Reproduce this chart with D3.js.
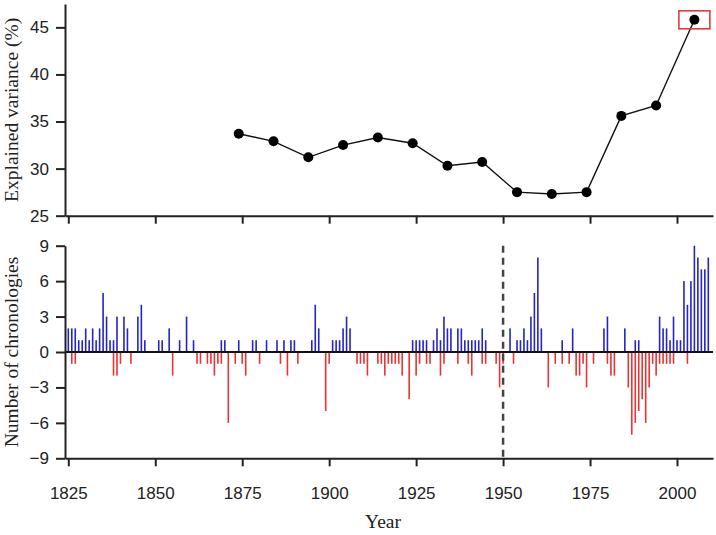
<!DOCTYPE html>
<html><head><meta charset="utf-8">
<script src="https://cdn.jsdelivr.net/npm/d3@7"></script>
<style>body{margin:0;background:#fff}svg{display:block}</style>
</head><body>
<svg id="chart" width="716" height="535"></svg>
<script>
// ---- data ----
const periodYears = [1874,1884,1894,1904,1914,1924,1934,1944,1954,1964,1974,1984,1994,2005];
const explainedVariance = [33.7,32.9,31.2,32.5,33.3,32.7,30.3,30.7,27.5,27.3,27.5,35.6,36.7,45.8];

const positiveYears = [1825,1826,1827,1828,1829,1830,1831,1832,1833,1834,1835,1836,1837,1838,1839,1841,1842,1845,1846,1847,1851,1852,1854,1857,1859,
  1861,1869,1870,1874,1878,1879,1882,1885,1887,1889,1890,1895,1896,1897,
  1901,1902,1903,1904,1905,1906,1924,1925,1926,1927,1928,1930,1931,1932,1933,1934,1935,
  1937,1938,1939,1940,1941,1942,1943,1944,1945,
  1952,1954,1955,1956,1957,1958,1959,1960,1961,1967,1970,
  1979,1980,1985,1988,1989,1995,1996,1997,1998,1999,2000,2001,2002,2003,2004,2005,2006,2007,2008,2009];
const positiveCounts = [2,2,2,1,1,2,1,2,1,2,5,3,1,1,3,3,2,3,4,1,1,1,2,1,3,
  1,1,1,1,1,1,1,1,1,1,1,1,4,2,
  1,1,1,2,3,2,1,1,1,1,1,1,2,1,3,2,2,
  2,2,1,1,1,1,1,2,1,
  2,1,1,2,1,3,5,8,2,1,2,
  2,3,2,1,1,3,2,2,1,3,1,1,6,4,6,9,8,7,7,8];

const negativeYears = [1826,1827,1838,1839,1840,1843,1855,
  1862,1863,1865,1866,1867,1868,1869,1871,1873,1875,1876,1880,1886,1888,1891,
  1899,1900,
  1908,1909,1910,1911,1914,1915,1916,1917,1918,1919,1920,1921,1923,1925,1926,1928,1929,1932,1933,
  1937,1940,1941,1944,1945,1948,1949,1950,1953,
  1963,1965,1967,1969,1971,1972,1973,1974,1976,
  1980,1981,1982,1986,1987,1988,1989,1990,1991,1992,1993,1994,1995,1996,1997,1998,1999,2003];
const negativeCounts = [-1,-1,-2,-2,-1,-1,-2,
  -1,-1,-1,-1,-2,-1,-1,-6,-1,-1,-2,-1,-1,-2,-1,
  -5,-1,
  -1,-1,-1,-2,-1,-1,-2,-1,-1,-1,-1,-2,-4,-2,-1,-1,-1,-2,-1,
  -1,-1,-2,-1,-1,-1,-3,-1,-1,
  -3,-1,-1,-1,-2,-2,-1,-3,-1,
  -1,-2,-2,-3,-7,-6,-5,-4,-6,-3,-1,-2,-1,-1,-1,-1,-1,-1];

const xTickValues = [1825,1850,1875,1900,1925,1950,1975,2000];
const topYTicks = [25,30,35,40,45];
const bottomYTicks = [-9,-6,-3,0,3,6,9];
const highlightYear = 2005;
const dividerYear = 1950;

// ---- layout ----
const svg = d3.select("#chart");
const left = 65, right = 713;
const x = d3.scaleLinear().domain([1824.05, 2010.35]).range([left, right]);
const yTop = d3.scaleLinear().domain([25, 47.48]).range([215.7, 4]);
const yBot = d3.scaleLinear().domain([-9, 9]).range([458.3, 245.7]);

const axisColor = "#222";
const tickFont = "'Liberation Sans', Arial, sans-serif";
const titleFont = "'Liberation Serif', 'Times New Roman', serif";

function styleAxis(g) {
  g.select(".domain").attr("stroke", axisColor).attr("stroke-width", 2);
  g.selectAll(".tick line").attr("stroke", axisColor).attr("stroke-width", 2);
  g.selectAll(".tick text").attr("fill", "#222").style("font-family", tickFont).style("font-size", "17px");
}

// ---- top panel ----
svg.append("g").attr("transform", `translate(0,${yTop(25)})`)
  .call(d3.axisBottom(x).tickValues(xTickValues).tickSize(8).tickSizeOuter(0).tickFormat(""))
  .call(styleAxis);
svg.append("g").attr("transform", `translate(${left},0)`)
  .call(d3.axisLeft(yTop).tickValues(topYTicks).tickSize(9).tickPadding(7).tickSizeOuter(0))
  .call(styleAxis);

const line = d3.line().x((d,i) => x(periodYears[i])).y(d => yTop(d));
svg.append("path").datum(explainedVariance).attr("d", line)
  .attr("fill", "none").attr("stroke", "#111").attr("stroke-width", 1.4);
svg.append("g").selectAll("circle").data(explainedVariance).join("circle")
  .attr("cx", (d,i) => x(periodYears[i])).attr("cy", d => yTop(d)).attr("r", 5).attr("fill", "#000");

const hiIdx = periodYears.indexOf(highlightYear);
svg.append("rect")
  .attr("x", x(highlightYear) - 15.5).attr("y", yTop(explainedVariance[hiIdx]) - 9)
  .attr("width", 31).attr("height", 18)
  .attr("fill", "none").attr("stroke", "#e23a3a").attr("stroke-width", 1.6);

svg.append("text").attr("transform", `translate(18,${(yTop.range()[0]+yTop.range()[1])/2}) rotate(-90)`)
  .attr("text-anchor", "middle").style("font-family", titleFont).style("font-size", "19.5px").attr("fill", "#222")
  .text("Explained variance (%)");

// ---- bottom panel ----
const bw = 1.6;
svg.append("g").selectAll("rect").data(positiveCounts).join("rect")
  .attr("x", (d,i) => x(positiveYears[i]) - bw/2).attr("y", d => yBot(d))
  .attr("width", bw).attr("height", d => yBot(0) - yBot(d)).attr("fill", "#2525c4");
svg.append("g").selectAll("rect").data(negativeCounts).join("rect")
  .attr("x", (d,i) => x(negativeYears[i]) - bw/2).attr("y", yBot(0))
  .attr("width", bw).attr("height", d => yBot(d) - yBot(0)).attr("fill", "#e53535");

svg.append("line").attr("x1", left).attr("x2", right).attr("y1", yBot(0)).attr("y2", yBot(0))
  .attr("stroke", "#111").attr("stroke-width", 2);

svg.append("line").attr("x1", x(dividerYear)).attr("x2", x(dividerYear))
  .attr("y1", yBot(9)).attr("y2", yBot(-9))
  .attr("stroke", "#444").attr("stroke-width", 2.5).attr("stroke-dasharray", "7,5");

svg.append("g").attr("transform", `translate(0,${yBot(-9)})`)
  .call(d3.axisBottom(x).tickValues(xTickValues).tickSize(8).tickPadding(21).tickSizeOuter(0).tickFormat(d3.format("d")))
  .call(styleAxis);
svg.append("g").attr("transform", `translate(${left},0)`)
  .call(d3.axisLeft(yBot).tickValues(bottomYTicks).tickSize(9).tickPadding(7).tickSizeOuter(0))
  .call(styleAxis);

svg.append("text").attr("transform", `translate(18,${(yBot.range()[0]+yBot.range()[1])/2}) rotate(-90)`)
  .attr("text-anchor", "middle").style("font-family", titleFont).style("font-size", "19.5px").attr("fill", "#222")
  .text("Number of chronologies");

svg.append("text").attr("x", (left + right) / 2 - 6).attr("y", 528)
  .attr("text-anchor", "middle").style("font-family", titleFont).style("font-size", "19.5px").attr("fill", "#222")
  .text("Year");
</script>
</body></html>
